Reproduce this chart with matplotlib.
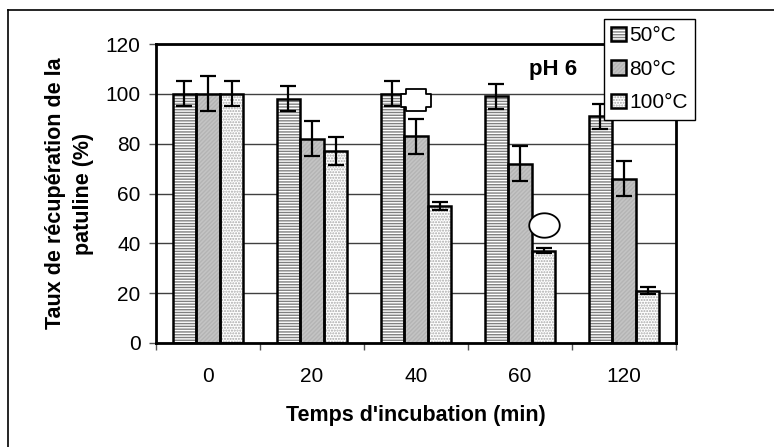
import numpy as np
import matplotlib
matplotlib.use("Agg")
import matplotlib.pyplot as plt
from matplotlib.patches import Patch
from matplotlib.lines import Line2D
from matplotlib.path import Path

plt.rcParams['font.family'] = ['Liberation Sans', 'DejaVu Sans']
plt.rcParams['hatch.linewidth'] = 1.0

# data
temps = ['0', '20', '40', '60', '120']
series = ['50°C', '80°C', '100°C']
v50 = [100, 98, 100, 99, 91]
v80 = [100, 82, 83, 72, 66]
v100 = [100, 77, 55, 37, 21]
e50 = [5, 5, 5, 5, 5]
e80 = [7, 7, 7, 7, 7]
e100 = [5, 5.5, 1.5, 1, 1.5]

styles = [
    dict(fc='white', hatch='------', hc='#808080'),
    dict(fc='#c4c4c4', hatch='////////', hc='#b4b4b4'),
    dict(fc='white', hatch='......', hc='#a8a8a8'),
]

fig = plt.figure(figsize=(7.74, 4.47), dpi=100)
ax = fig.add_axes([156/774, 1-343/447, 520/774, 299/447])

x = np.arange(len(temps))
w = 0.226
vals = [v50, v80, v100]
errs = [e50, e80, e100]
for i, (v, e, st) in enumerate(zip(vals, errs, styles)):
    xs = x + (i-1)*w
    ax.bar(xs, v, w, color=st['fc'], edgecolor=st['hc'], hatch=st['hatch'], lw=0, zorder=2)
    ax.bar(xs, v, w, fill=False, edgecolor='black', lw=1.8, zorder=3)
    ax.errorbar(xs, v, yerr=e, fmt='none', ecolor='black', elinewidth=1.6,
                capsize=5.8, capthick=1.6, zorder=4)

ax.set_xlim(-0.5, len(temps)-0.5)
ax.set_ylim(0, 120)
ax.set_yticks(range(0, 121, 20))
ax.yaxis.grid(True, color='#404040', lw=1)
ax.set_axisbelow(True)
ax.set_xticks(x)
ax.set_xticklabels(temps)
ax.set_xticks(np.arange(-0.5, len(temps)), minor=True)
ax.tick_params(axis='x', which='major', length=0, pad=17, labelsize=15)
ax.tick_params(axis='x', which='minor', length=5, width=1, color='#555555')
ax.tick_params(axis='y', length=5, width=1, color='#555555', pad=6, labelsize=15)
for s in ax.spines.values():
    s.set_linewidth(2)
    s.set_color('black')

ax.set_xlabel("Temps d'incubation (min)", fontsize=15.5, fontweight='bold', labelpad=14)
ax.set_ylabel("Taux de récupération de la\npatuline (%)", fontsize=15.5,
              fontweight='bold', labelpad=8, linespacing=1.45)

ax.text(3.32, 109.6, 'pH 6', fontsize=16, fontweight='bold', ha='center', va='center')

# annotation shapes
cross = [(-15, -7), (-15, 6), (-10, 6), (-10, 11), (10, 11), (10, 6), (15, 6),
         (15, -7), (10, -7), (10, -11), (-10, -11), (-10, -7), (-15, -7)]
ax.plot([2], [97.5], marker=Path(cross, closed=True), ms=22, mfc='white',
        mec='black', mew=1.3, ls='none', zorder=5, clip_on=False)
t = np.linspace(0, 2*np.pi, 60)
ell = list(zip(15*np.cos(t), 12*np.sin(t)))
ax.plot([3+w], [47.4], marker=Path(ell, closed=True), ms=22, mfc='white',
        mec='black', mew=1.3, ls='none', zorder=5, clip_on=False)

handles = []
for st in styles:
    handles.append((Patch(facecolor=st['fc'], edgecolor=st['hc'], hatch=st['hatch'], lw=0),
                    Patch(fill=False, edgecolor='black', lw=1.8)))
leg = fig.legend(handles, series, loc='upper left', bbox_to_anchor=(604/774, 1-19/447),
                 fontsize=15, frameon=True, fancybox=False, edgecolor='black',
                 framealpha=1, borderaxespad=0, handlelength=0.7, handleheight=0.7,
                 handletextpad=0.15, labelspacing=0.7, borderpad=0.35)
leg.get_frame().set_linewidth(1)

# outer chart frame
fig.add_artist(Line2D([8/774, 1], [1-10/447, 1-10/447], color='black', lw=1.2))
fig.add_artist(Line2D([8/774, 8/774], [0, 1-10/447], color='black', lw=1.2))

fig.savefig('out.png', dpi=100)
